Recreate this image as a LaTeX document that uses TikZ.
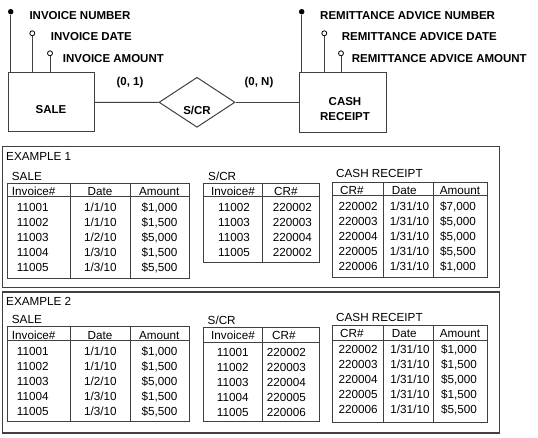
\documentclass[tikz,border=0pt]{standalone}
\usepackage{fontspec}
\setmainfont{Liberation Sans}
\usetikzlibrary{shapes.geometric}
\definecolor{linegray}{HTML}{404040}
\tikzset{
  entity/.style={draw=linegray, line width=1pt, inner sep=0pt},
  relation/.style={diamond, draw=linegray, line width=1pt, inner sep=0pt},
  keyattr/.style={circle, fill=black, inner sep=0pt, minimum size=5.5pt},
  attr/.style={circle, draw=black, fill=white, line width=0.8pt, inner sep=0pt, minimum size=5pt},
  erline/.style={draw=linegray, line width=1pt},
  ertext/.style={font=\fontsize{11.5}{13}\selectfont\bfseries, inner sep=0pt, text height=8.2pt, text depth=0pt},
  erlines/.style={font=\fontsize{11.5}{15}\selectfont\bfseries, inner sep=0pt, align=center},
  cell/.style={font=\fontsize{11.7}{13}\selectfont, inner sep=0pt, text height=8.4pt, text depth=0pt},
  tbl/.style={draw=linegray, line width=1pt},
  frame/.style={draw=linegray, line width=1.4pt},
}
\begin{document}
\begin{tikzpicture}[x=1pt,y=-1pt]
\useasboundingbox (0,0) rectangle (538,438);
% entities and relationship
\node[entity, minimum width=86pt, minimum height=59pt,
      label={[ertext, yshift=-6.5pt]center:SALE}] (sale) at (51,102.5) {};
\node[relation, minimum width=76pt, minimum height=50pt,
      label={[ertext, yshift=-8pt]center:S/CR}] (scr) at (197,102.3) {};
\node[entity, minimum width=87pt, minimum height=60pt,
      label={[erlines, xshift=2.5pt, yshift=-6.2pt]center:CASH\\RECEIPT}] (cash) at (342.5,103) {};
\draw[erline] (sale.east) -- (scr.west);
\draw[erline] (scr.east) -- (scr.east -| cash.west);
\node[ertext] (card1) at (130,81.7) {(0, 1)};
\node[ertext] (cardn) at (259,81.7) {(0, N)};
% attributes of SALE
\node[keyattr] (invnum) at (10.7,11.7) {};
\node[attr] (invdate) at (32.3,33.3) {};
\node[attr] (invamt) at (50,53.3) {};
\foreach \a in {invnum,invdate,invamt}
  \draw[erline] (\a) -- (\a |- sale.north);
\node[ertext, anchor=west] (invnumtxt) at (29.3,15.8) {INVOICE NUMBER};
\node[ertext, anchor=west] (invdatetxt) at (50.7,36.2) {INVOICE DATE};
\node[ertext, anchor=west] (invamttxt) at (62.7,58.5) {INVOICE AMOUNT};
% attributes of CASH RECEIPT
\node[keyattr] (ranum) at (301.7,11.7) {};
\node[attr] (radate) at (324.3,33.3) {};
\node[attr] (raamt) at (341,53.3) {};
\foreach \a in {ranum,radate,raamt}
  \draw[erline] (\a) -- (\a |- cash.north);
\node[ertext, anchor=west] (ranumtxt) at (320,15.8) {REMITTANCE ADVICE NUMBER};
\node[ertext, anchor=west] (radatetxt) at (341.7,36.2) {REMITTANCE ADVICE DATE};
\node[ertext, anchor=west] (raamttxt) at (351.7,58.5) {REMITTANCE ADVICE AMOUNT};
% example frames
\foreach \ex/\dy in {1/0,2/145.3}{
  \draw[frame] (2.7,146.7+\dy) rectangle (499.3,287.7+\dy);
  \node[cell, anchor=west] (extxt\ex) at (6,156+\dy) {EXAMPLE \ex};
}
% SALE tables (same rows in both examples)
\foreach \ex/\dy in {1/0,2/143.5}{
  \node[cell, anchor=west] (salelbl-\ex) at (11.7,176+\dy) {SALE};
  \draw[tbl] (7.3,183.3+\dy) rectangle (189.3,278.3+\dy);
  \draw[tbl] (7.3,196.7+\dy) -- (189.3,196.7+\dy);
  \draw[tbl] (70.7,183.3+\dy) -- (70.7,278.3+\dy);
  \draw[tbl] (130,183.3+\dy) -- (130,278.3+\dy);
  \node[cell, anchor=west] (salehd-\ex-1) at (11.7,191.7+\dy) {Invoice\#};
  \node[cell] (salehd-\ex-2) at (100,191.7+\dy) {Date};
  \node[cell] (salehd-\ex-3) at (159.3,191.7+\dy) {Amount};
  \foreach \inv/\dt/\amt [count=\r] in {11001/{1/1/10}/{\$1,000}, 11002/{1/1/10}/{\$1,500},
      11003/{1/2/10}/{\$5,000}, 11004/{1/3/10}/{\$1,500}, 11005/{1/3/10}/{\$5,500}}{
    \node[cell, anchor=west] (sale-\ex-inv-\r) at (16.7,192.5+15*\r+\dy) {\inv};
    \node[cell] (sale-\ex-dt-\r) at (100.3,192.5+15*\r+\dy) {\dt};
    \node[cell] (sale-\ex-amt-\r) at (159.5,192.5+15*\r+\dy) {\amt};
  }
}
% S/CR, example 1
\node[cell, anchor=west] (scrlbl-1) at (208,176) {S/CR};
\draw[tbl] (203.5,183.3) rectangle (319.5,262.5);
\draw[tbl] (203.5,197) -- (319.5,197);
\draw[tbl] (262,183.3) -- (262,262.5);
\node[cell, anchor=west] (scrhd-1-1) at (211,191) {Invoice\#};
\node[cell, anchor=west] (scrhd-1-2) at (274,191) {CR\#};
\foreach \inv/\cr [count=\r] in {11002/220002, 11003/220003, 11003/220004, 11005/220002}{
  \node[cell, anchor=west] (scr-1-inv-\r) at (218,192.5+15*\r) {\inv};
  \node[cell, anchor=west] (scr-1-cr-\r) at (272.7,192.5+15*\r) {\cr};
}
% S/CR, example 2
\node[cell, anchor=west] (scrlbl-2) at (207.5,320.7) {S/CR};
\draw[tbl] (203.5,327.3) rectangle (319.5,421);
\draw[tbl] (203.5,342.5) -- (319.5,342.5);
\draw[tbl] (262,327.3) -- (262,421);
\node[cell, anchor=west] (scrhd-2-1) at (211,335.5) {Invoice\#};
\node[cell, anchor=west] (scrhd-2-2) at (272,335.5) {CR\#};
\foreach \inv/\cr [count=\r] in {11001/220002, 11002/220003, 11003/220004, 11004/220005, 11005/220006}{
  \node[cell, anchor=west] (scr-2-inv-\r) at (216.7,337.3+15*\r) {\inv};
  \node[cell, anchor=west] (scr-2-cr-\r) at (266.7,337.3+15*\r) {\cr};
}
% CASH RECEIPT, example 1
\node[cell, anchor=west] (cashlbl-1) at (336,173.3) {CASH RECEIPT};
\draw[tbl] (332.7,182.3) rectangle (487.3,277.7);
\draw[tbl] (332.7,196) -- (487.3,196);
\draw[tbl] (383.3,182.3) -- (383.3,277.7);
\draw[tbl] (433.3,182.3) -- (433.3,277.7);
\node[cell, anchor=west] (cashhd-1-1) at (340,190) {CR\#};
\node[cell, anchor=west] (cashhd-1-2) at (391.7,190) {Date};
\node[cell] (cashhd-1-3) at (460,190) {Amount};
\foreach \cr/\amt [count=\r] in {220002/{\$7,000}, 220003/{\$5,000}, 220004/{\$5,000},
    220005/{\$5,500}, 220006/{\$1,000}}{
  \node[cell, anchor=west] (cash-1-cr-\r) at (338.3,191.5+15*\r) {\cr};
  \node[cell] (cash-1-dt-\r) at (409.5,191.5+15*\r) {1/31/10};
  \node[cell] (cash-1-amt-\r) at (458,191.5+15*\r) {\amt};
}
% CASH RECEIPT, example 2
\node[cell, anchor=west] (cashlbl-2) at (336,317.3) {CASH RECEIPT};
\draw[tbl] (332.7,325.7) rectangle (487.3,422);
\draw[tbl] (332.7,340.3) -- (487.3,340.3);
\draw[tbl] (383.3,325.7) -- (383.3,422);
\draw[tbl] (433.3,325.7) -- (433.3,422);
\node[cell, anchor=west] (cashhd-2-1) at (340,333.5) {CR\#};
\node[cell, anchor=west] (cashhd-2-2) at (391.7,333.5) {Date};
\node[cell] (cashhd-2-3) at (460,333.5) {Amount};
\foreach \cr/\amt [count=\r] in {220002/{\$1,000}, 220003/{\$1,500}, 220004/{\$5,000},
    220005/{\$1,500}, 220006/{\$5,500}}{
  \node[cell, anchor=west] (cash-2-cr-\r) at (338.3,334+15*\r) {\cr};
  \node[cell] (cash-2-dt-\r) at (410,334+15*\r) {1/31/10};
  \node[cell] (cash-2-amt-\r) at (459,334+15*\r) {\amt};
}
\end{tikzpicture}
\end{document}
